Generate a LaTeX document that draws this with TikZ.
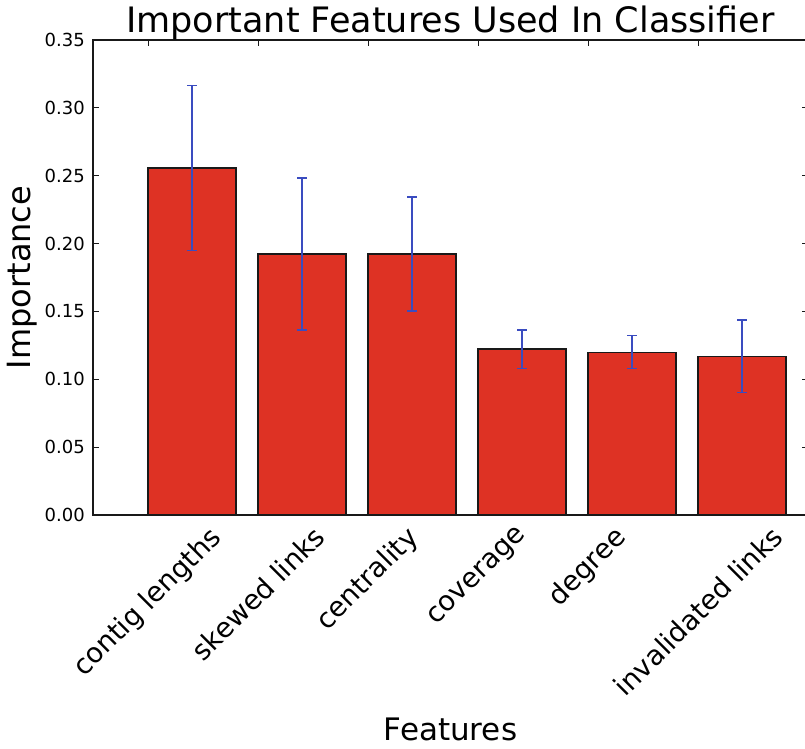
\documentclass[tikz,border=0pt]{standalone}
\usepackage{fontspec}
\setmainfont{DejaVu Sans}
\usepackage{graphicx}
\definecolor{barred}{RGB}{222,50,36}
\definecolor{errblue}{RGB}{58,76,192}
\begin{document}
\begin{tikzpicture}[x=1pt,y=1pt,
  barbox/.style={draw=black!90, line width=1.3pt, fill=barred},
  errbar/.style={draw=errblue, line width=1.2pt},
  axisline/.style={draw=black!90, line width=1.3pt},
  tickmark/.style={draw=black!90, line width=1pt},
  ticklab/.style={font=\fontsize{18}{18}\selectfont, anchor=east, inner sep=0pt},
  xlab/.style={font=\fontsize{27.5}{27.5}\selectfont, anchor=north, inner sep=0pt},
]
\useasboundingbox (0,0) rectangle (805,748);
\fill[white] (0,0) rectangle (805,748);
\begin{scope}[shift={(148,233)}, x=110pt, y=1357.14pt]
  % bars and error bars
  \foreach \i/\v/\lo/\hi in {0/0.2557/0.1948/0.3166, 1/0.1923/0.1363/0.2483, 2/0.1923/0.1503/0.2343, 3/0.1223/0.1080/0.1363, 4/0.1199/0.1080/0.1321, 5/0.1167/0.0901/0.1437}{
    \draw[barbox] (\i,0) rectangle (\i+0.8,\v);
    \draw[errbar] (\i+0.4,\lo) coordinate (elo\i) -- (\i+0.4,\hi) coordinate (ehi\i);
    \draw[errbar] ([xshift=-5pt]elo\i) -- ([xshift=5pt]elo\i);
    \draw[errbar] ([xshift=-5pt]ehi\i) -- ([xshift=5pt]ehi\i);
  }
  % ticks
  \foreach \i in {0,...,5}{
    \draw[tickmark] (\i,0.35) -- ++(0,-6pt);
    \draw[tickmark] (\i,0) -- ++(0,6pt);
  }
  \foreach \k/\t in {0/0.00,1/0.05,2/0.10,3/0.15,4/0.20,5/0.25,6/0.30,7/0.35}{
    \draw[tickmark] (-0.5,\k*0.05) -- ++(6pt,0);
    \draw[tickmark] (6,\k*0.05) -- ++(-6pt,0);
    \node[ticklab, xshift=-8pt] (yt\k) at (-0.5,\k*0.05) {\t};
  }
  % axes frame
  \draw[axisline] (-0.5,0) rectangle (6,0.35);
  % rotated category labels
  \foreach \i/\t in {0/contig lengths,1/skewed links,2/centrality,3/coverage,4/degree,5/invalidated links}{
    \node[xlab, yshift=-9pt] (xl\i) at (\i,0) {\rotatebox{45}{\t}};
  }
\end{scope}
\node[font=\fontsize{35}{35}\selectfont, anchor=base, inner sep=0pt] (title) at (450.5,715) {Important Features Used In Classifier};
\node[font=\fontsize{32}{32}\selectfont, rotate=90, anchor=base, inner sep=0pt] (ylab) at (31,470.5) {Importance};
\node[font=\fontsize{31}{31}\selectfont, anchor=base, inner sep=0pt] (xlabel) at (450.5,8) {Features};
\end{tikzpicture}
\end{document}
